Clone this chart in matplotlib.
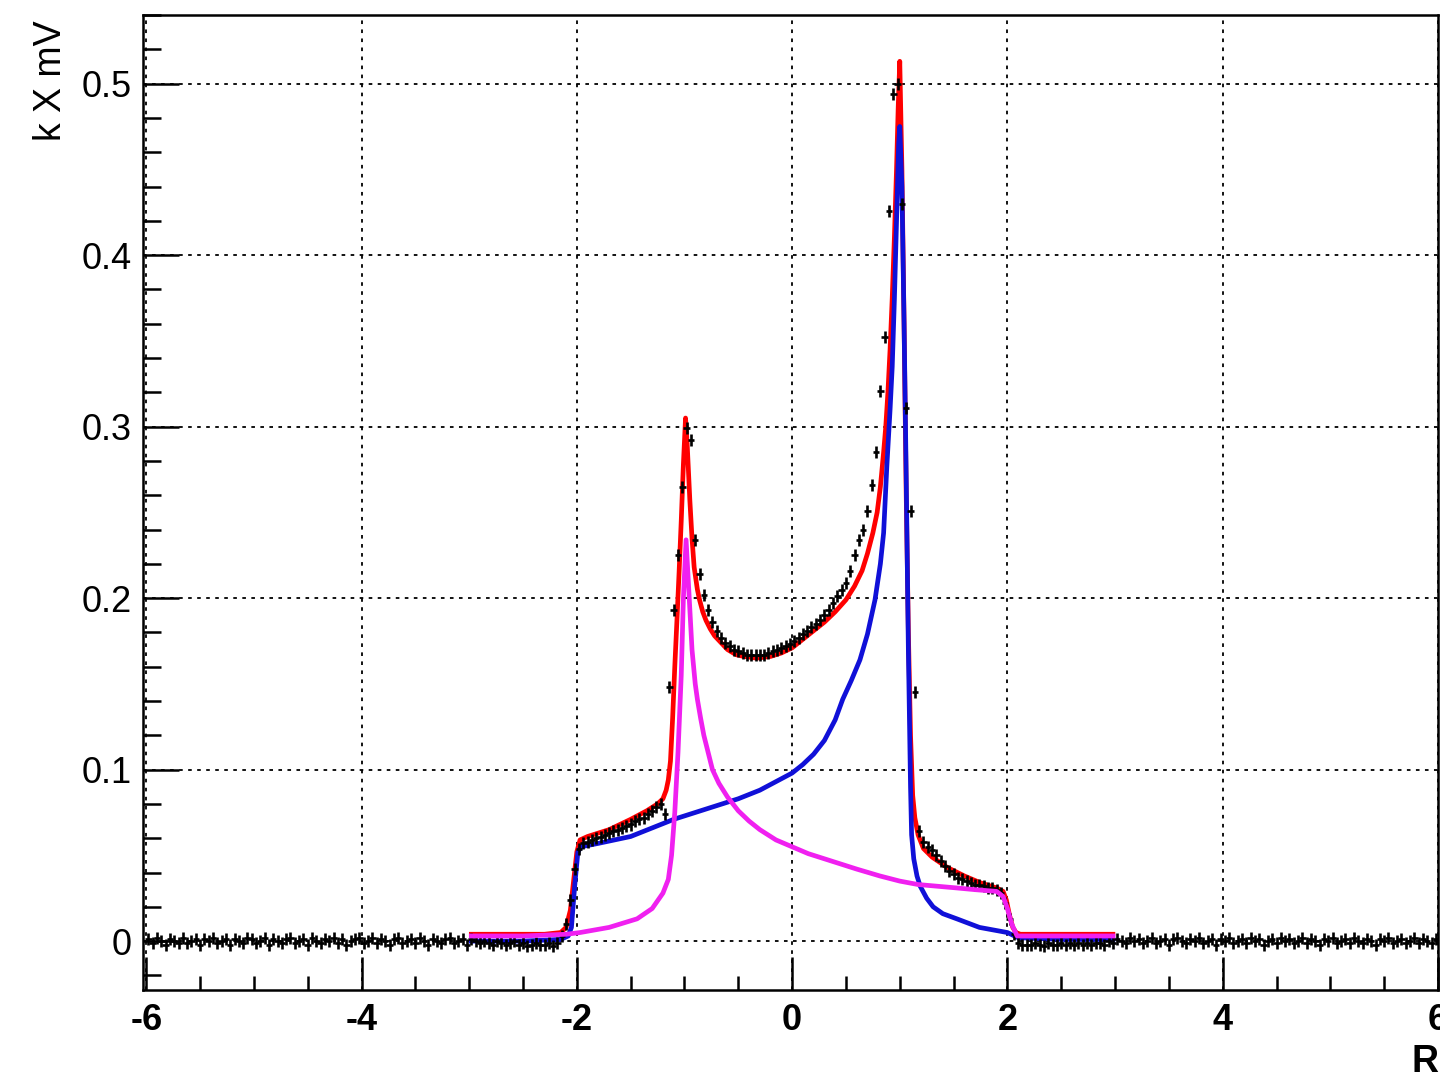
import numpy as np
import matplotlib
matplotlib.use("Agg")
import matplotlib.pyplot as plt
from matplotlib.ticker import MultipleLocator

plt.rcParams['font.family'] = ['Liberation Sans', 'DejaVu Sans']

# ---------------- data ----------------
BIN_FIRST = -5.98
BIN_WIDTH = 0.04

LEFT_BASE = [0.001, -0.001, 0.002, 0.000, -0.002, 0.001, 0.000, -0.001, 0.002, -0.001,
             0.000, 0.001, -0.002, 0.001, 0.000, 0.002, -0.001, 0.000, 0.001, -0.002,
             0.001, 0.000, -0.001, 0.002, 0.001, -0.001, 0.000, 0.002, -0.002, 0.001,
             0.000, -0.001, 0.001, 0.002, -0.001, 0.000, 0.001, -0.002, 0.002, 0.000,
             -0.001, 0.001, 0.000, 0.002, -0.001, 0.001, -0.002, 0.000, 0.001, 0.002,
             -0.001, 0.000, 0.002, -0.001, 0.001, 0.000, -0.002, 0.001, 0.002, -0.001,
             0.000, 0.001, -0.001, 0.002, 0.000, -0.002, 0.001, 0.000, -0.001, 0.001,
             0.002, -0.001, 0.000, 0.001, -0.002, 0.001, 0.000, -0.001, 0.000, -0.001,
             -0.002, 0.000, -0.001, -0.002, -0.001, 0.000, -0.002, -0.001, -0.003, -0.002,
             -0.001, -0.002, -0.002, -0.001, -0.003]

CENTRAL = [-0.001, 0.003, 0.010, 0.024, 0.042, 0.054, 0.057, 0.058, 0.059, 0.060,
           0.061, 0.062, 0.063, 0.064, 0.065, 0.066, 0.067, 0.068, 0.070, 0.071,
           0.072, 0.074, 0.076, 0.078, 0.080, 0.074, 0.148, 0.193, 0.225, 0.265,
           0.299, 0.292, 0.234, 0.214, 0.202, 0.193, 0.186, 0.181, 0.177, 0.174,
           0.172, 0.170, 0.169, 0.168, 0.167, 0.167, 0.167, 0.167, 0.167, 0.168,
           0.169, 0.170, 0.171, 0.172, 0.173, 0.175, 0.177, 0.179, 0.181, 0.183,
           0.185, 0.187, 0.190, 0.193, 0.197, 0.201, 0.205, 0.209, 0.216, 0.225,
           0.234, 0.240, 0.251, 0.266, 0.285, 0.321, 0.352, 0.426, 0.494, 0.500,
           0.430, 0.311, 0.251, 0.145, 0.064, 0.058, 0.055, 0.053, 0.050, 0.047,
           0.044, 0.041, 0.039, 0.037, 0.036, 0.035, 0.034, 0.033, 0.033, 0.032,
           0.031, 0.031, 0.030, 0.028, 0.022, 0.013, 0.004, -0.001, -0.002, -0.002]

RIGHT_BASE = [-0.002, -0.001, -0.002, -0.003, -0.001, -0.002, -0.002, -0.001, -0.002, -0.001,
              -0.002, -0.001, -0.002, -0.001, -0.002, -0.001, -0.001, -0.002, 0.000, -0.001,
              0.001, 0.000, -0.001, 0.002, 0.000, 0.001, -0.001, 0.000, 0.002, -0.001,
              0.000, 0.001, -0.002, 0.001, 0.002, 0.000, -0.001, 0.001, 0.000, 0.002,
              -0.001, 0.000, 0.001, -0.002, 0.001, 0.000, 0.002, -0.001, 0.000, 0.001,
              -0.001, 0.002, 0.000, 0.001, -0.002, 0.000, 0.001, -0.001, 0.002, 0.000,
              0.001, -0.001, 0.000, 0.002, -0.001, 0.001, 0.000, -0.002, 0.001, 0.000,
              0.002, -0.001, 0.000, 0.001, -0.001, 0.002, 0.000, -0.001, 0.001, 0.000,
              -0.002, 0.001, 0.000, 0.002, -0.001, 0.000, 0.001, -0.001, 0.000, 0.002,
              -0.001, 0.001, 0.000, -0.001, 0.001]

DATA_YERR = 0.0035

RED_X = [-2.98, -2.6, -2.3, -2.15, -2.10, -2.06, -2.03, -2.00, -1.97, -1.9,
         -1.7, -1.5, -1.35, -1.25, -1.2, -1.17, -1.15, -1.13, -1.11, -1.09,
         -1.07, -1.05, -1.03, -1.01, -0.99, -0.975, -0.95, -0.93, -0.91, -0.88,
         -0.86, -0.83, -0.80, -0.76, -0.72, -0.66, -0.60, -0.52, -0.45, -0.33,
         -0.2, -0.1, 0.0, 0.1, 0.2, 0.3, 0.4, 0.5, 0.58, 0.65,
         0.70, 0.75, 0.79, 0.82, 0.85, 0.87, 0.89, 0.91, 0.93, 0.95,
         0.97, 0.985, 1.0, 1.02, 1.04, 1.06, 1.08, 1.10, 1.12, 1.14,
         1.17, 1.22, 1.3, 1.44, 1.6, 1.75, 1.9, 1.96, 1.99, 2.02,
         2.05, 2.08, 2.12, 2.3, 2.6, 2.98]
RED_Y = [0.004, 0.004, 0.004, 0.005, 0.008, 0.018, 0.035, 0.052, 0.059, 0.061,
         0.065, 0.071, 0.076, 0.080, 0.083, 0.088, 0.094, 0.105, 0.130, 0.160,
         0.187, 0.215, 0.245, 0.278, 0.305, 0.290, 0.257, 0.235, 0.218, 0.205,
         0.199, 0.192, 0.187, 0.182, 0.178, 0.174, 0.170, 0.167, 0.166, 0.165,
         0.166, 0.168, 0.171, 0.176, 0.181, 0.186, 0.192, 0.199, 0.207, 0.216,
         0.226, 0.238, 0.250, 0.265, 0.285, 0.300, 0.320, 0.345, 0.375, 0.410,
         0.450, 0.485, 0.513, 0.450, 0.360, 0.260, 0.180, 0.120, 0.085, 0.072,
         0.062, 0.054, 0.049, 0.043, 0.038, 0.034, 0.031, 0.029, 0.024, 0.015,
         0.008, 0.005, 0.004, 0.004, 0.004, 0.004]

BLUE_X = [-2.98, -2.5, -2.15, -2.08, -2.05, -2.02, -1.99, -1.96, -1.8, -1.5,
          -1.3, -1.1, -0.9, -0.7, -0.5, -0.3, -0.15, 0.0, 0.1, 0.2,
          0.3, 0.4, 0.47, 0.55, 0.63, 0.7, 0.77, 0.82, 0.85, 0.88,
          0.91, 0.93, 0.95, 0.97, 0.99, 1.0, 1.02, 1.04, 1.06, 1.08,
          1.10, 1.11, 1.13, 1.16, 1.19, 1.25, 1.31, 1.4, 1.53, 1.74,
          2.0, 2.1, 2.5, 2.98]
BLUE_Y = [0.000, 0.000, 0.001, 0.003, 0.008, 0.032, 0.052, 0.055, 0.057, 0.061,
          0.066, 0.071, 0.075, 0.079, 0.083, 0.088, 0.093, 0.098, 0.103, 0.109,
          0.117, 0.129, 0.141, 0.152, 0.164, 0.179, 0.199, 0.220, 0.238, 0.277,
          0.310, 0.335, 0.374, 0.420, 0.465, 0.475, 0.440, 0.360, 0.270, 0.170,
          0.090, 0.062, 0.048, 0.038, 0.032, 0.025, 0.020, 0.016, 0.013, 0.008,
          0.005, 0.002, 0.001, 0.001]

MAG_X = [-2.98, -2.5, -2.1, -1.97, -1.7, -1.44, -1.3, -1.2, -1.15, -1.12,
         -1.09, -1.06, -1.03, -1.01, -0.985, -0.96, -0.93, -0.90, -0.88, -0.85,
         -0.82, -0.78, -0.74, -0.68, -0.6, -0.5, -0.4, -0.3, -0.15, 0.0,
         0.15, 0.3, 0.45, 0.6, 0.815, 1.0, 1.17, 1.35, 1.53, 1.7,
         1.9, 1.96, 2.0, 2.04, 2.09, 2.3, 2.98]
MAG_Y = [0.003, 0.003, 0.004, 0.005, 0.008, 0.013, 0.019, 0.028, 0.036, 0.050,
         0.075, 0.110, 0.155, 0.200, 0.234, 0.205, 0.170, 0.150, 0.141, 0.130,
         0.120, 0.110, 0.100, 0.092, 0.084, 0.076, 0.070, 0.065, 0.059, 0.055,
         0.051, 0.048, 0.045, 0.042, 0.038, 0.035, 0.033, 0.032, 0.031, 0.030,
         0.029, 0.026, 0.019, 0.010, 0.003, 0.003, 0.003]

X_TICKS = [-6, -4, -2, 0, 2, 4, 6]
Y_TICKS = [0, 0.1, 0.2, 0.3, 0.4, 0.5]
X_LABEL = "R"
Y_LABEL = "k X mV"

# ---------------- figure ----------------
data_y = np.array(LEFT_BASE + CENTRAL + RIGHT_BASE)
data_x = BIN_FIRST + BIN_WIDTH * np.arange(len(data_y))

W, H = 1440, 1077
fig = plt.figure(figsize=(W / 100, H / 100), dpi=100)
ax = fig.add_axes([143 / W, 1 - 990 / H, (1438 - 143) / W, (990 - 15) / H])

ax.set_xlim(-6.03, 6.0)
ax.set_ylim(-0.0285, 0.54)

ax.plot(RED_X, RED_Y, color='#ff0000', lw=3.4, zorder=3, solid_joinstyle='round')
ax.plot(BLUE_X, BLUE_Y, color='#1010d8', lw=3.4, zorder=4, solid_joinstyle='round')
ax.errorbar(data_x, data_y, xerr=0.03, yerr=DATA_YERR, fmt='none',
            ecolor='black', elinewidth=1.9, capsize=0, zorder=5)
ax.plot(MAG_X, MAG_Y, color='#f020f0', lw=3.4, zorder=6, solid_joinstyle='round')

ax.set_xticks(X_TICKS)
ax.set_yticks(Y_TICKS)
ax.set_xticklabels(['-6', '-4', '-2', '0', '2', '4', '6'], fontsize=26, fontweight='bold')
ax.set_yticklabels(['0', '0.1', '0.2', '0.3', '0.4', '0.5'], fontsize=26)
ax.xaxis.set_minor_locator(MultipleLocator(0.5))
ax.yaxis.set_minor_locator(MultipleLocator(0.02))
ax.tick_params(axis='both', which='both', direction='in', top=False, right=False,
               width=1.8, color='black')
ax.tick_params(axis='x', which='major', length=24, pad=9)
ax.tick_params(axis='x', which='minor', length=10)
ax.tick_params(axis='y', which='major', length=26, pad=8)
ax.tick_params(axis='y', which='minor', length=13)

ax.grid(True, which='major', color='black', linestyle=(0, (2, 3)), lw=1.3)
ax.set_axisbelow(True)
for s in ax.spines.values():
    s.set_linewidth(1.8)

fig.text(51 / W, 1 - 20 / H, Y_LABEL, rotation=90, ha='center', va='top', fontsize=27)
fig.text(1411 / W, 1 - 1062 / H, X_LABEL, ha='left', va='center', fontsize=27, fontweight='bold')

fig.savefig('out.png', dpi=100)
